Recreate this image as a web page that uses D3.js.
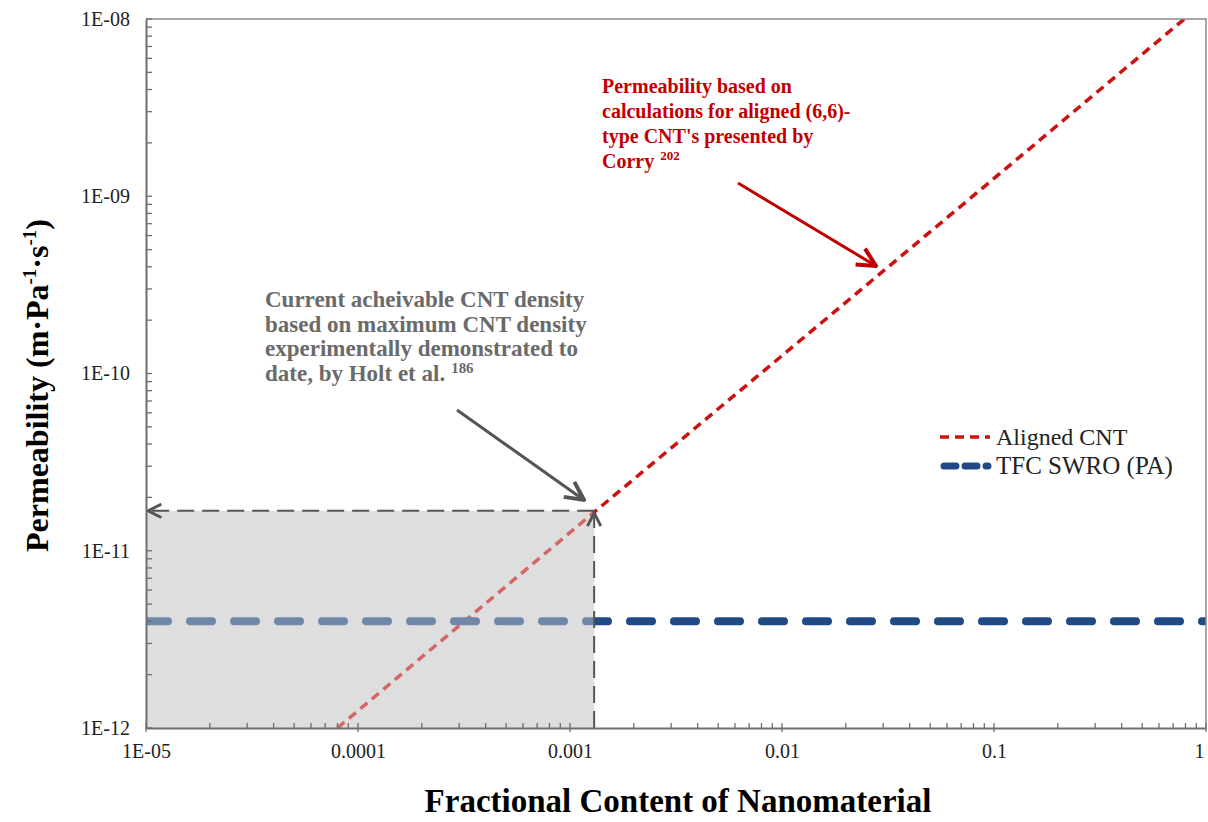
<!DOCTYPE html>
<html><head><meta charset="utf-8">
<script src="https://cdn.jsdelivr.net/npm/d3@7"></script>
<style>body{margin:0;background:#fff}svg{display:block}</style>
</head><body>
<svg id="chart" width="1208" height="822"></svg>
<script>
// ---- data ----
const xTickValues = [1e-5, 1e-4, 1e-3, 1e-2, 1e-1, 1];
const xTickLabels = ["1E-05", "0.0001", "0.001", "0.01", "0.1", "1"];
const yTickValues = [1e-12, 1e-11, 1e-10, 1e-9, 1e-8];
const yTickLabels = ["1E-12", "1E-11", "1E-10", "1E-09", "1E-08"];
const seriesNames = ["Aligned CNT", "TFC SWRO (PA)"];
const cntFraction = [0.00008, 0.0013, 0.01, 0.1, 0.79];
const cntPermeability = [1.0e-12, 1.65e-11, 1.26e-10, 1.26e-9, 1.0e-8];
const tfcFraction = [0.00001, 1];
const tfcPermeability = [4.0e-12, 4.0e-12];
const currentDensity = [0.0013];
const currentPermeability = [1.68e-11];
const redNote = ["Permeability based on", "calculations for aligned (6,6)-", "type CNT's presented by", "Corry"];
const redRef = "202";
const grayNote = ["Current acheivable CNT density", "based on maximum CNT density", "experimentally demonstrated to", "date, by Holt et al."];
const grayRef = "186";

// ---- layout ----
const svg = d3.select("#chart");
const L = 146, R = 1206, T = 19, B = 728;
const x = d3.scaleLog().domain([1e-5, 1]).range([L, R]);
const y = d3.scaleLog().domain([1e-12, 1e-8]).range([B, T]);
const serif = "'Liberation Serif','Times New Roman',serif";
const axisCol = "#6e6e6e";
const red = "#cc1111", blue = "#1f4a85", grayShade = "#dedede";

svg.append("rect").attr("width", 1208).attr("height", 822).attr("fill", "#fff");

const defs = svg.append("defs");
defs.append("clipPath").attr("id", "plotclip").append("rect")
  .attr("x", L).attr("y", T).attr("width", R - L).attr("height", B - T);
function chevron(id, col, size) {
  defs.append("marker").attr("id", id).attr("viewBox", "0 0 12 12")
    .attr("refX", 11).attr("refY", 6).attr("markerWidth", size).attr("markerHeight", size)
    .attr("markerUnits", "userSpaceOnUse").attr("orient", "auto")
    .append("path").attr("d", "M1,1 L11,6 L1,11").attr("fill", "none")
    .attr("stroke", col).attr("stroke-width", 2.2).attr("stroke-linejoin", "miter");
}
chevron("arrRed", "#c00000", 22);
chevron("arrGray", "#555", 22);
chevron("arrBox", "#555", 16);

const bx = x(currentDensity[0]), by = y(currentPermeability[0]);

// grey shaded region
svg.append("rect").attr("x", L).attr("y", by).attr("width", bx - L).attr("height", B - by).attr("fill", grayShade);

const plot = svg.append("g").attr("clip-path", "url(#plotclip)");
const line = d3.line().x(d => x(d[0])).y(d => y(d[1]));

plot.append("path").datum(cntFraction.map((f, i) => [f, cntPermeability[i]]))
  .attr("d", line).attr("fill", "none").attr("stroke", red)
  .attr("stroke-width", 3.5).attr("stroke-dasharray", "9,6");
plot.append("path").datum(tfcFraction.map((f, i) => [f, tfcPermeability[i]]))
  .attr("d", line).attr("fill", "none").attr("stroke", blue)
  .attr("stroke-width", 8).attr("stroke-linecap", "round").attr("stroke-dasharray", "22,22");

// translucent overlay above lines in shaded region
svg.append("rect").attr("x", L).attr("y", by).attr("width", bx - L).attr("height", B - by)
  .attr("fill", grayShade).attr("opacity", 0.42);

// dashed box lines
svg.append("line").attr("x1", bx).attr("y1", by).attr("x2", L + 2).attr("y2", by)
  .attr("stroke", "#555").attr("stroke-width", 2).attr("stroke-dasharray", "17,8")
  .attr("marker-end", "url(#arrBox)");
svg.append("line").attr("x1", bx).attr("y1", B).attr("x2", bx).attr("y2", by + 2)
  .attr("stroke", "#555").attr("stroke-width", 2).attr("stroke-dasharray", "17,8")
  .attr("marker-end", "url(#arrBox)");

// frame
svg.append("path").attr("d", `M${L},${T}H${R}V${B}`).attr("fill", "none").attr("stroke", "#8a8a8a").attr("stroke-width", 1.5);

// axes
const minorX = [], minorY = [];
for (let e = -5; e < 0; e++) for (let k = 2; k <= 9; k++) minorX.push(k * Math.pow(10, e));
for (let e = -12; e < -8; e++) for (let k = 2; k <= 9; k++) minorY.push(k * Math.pow(10, e));

const xAxis = d3.axisBottom(x).tickValues(xTickValues).tickSize(0).tickFormat((d, i) => xTickLabels[i]).tickPadding(16);
const gx = svg.append("g").attr("transform", `translate(0,${B})`).call(xAxis);
gx.select(".domain").attr("stroke", axisCol).attr("stroke-width", 2);
gx.selectAll("text").attr("font-family", serif).attr("font-size", 20).attr("fill", "#222").attr("dy", "0.72em");
gx.selectAll(".tick").filter(d => d === 1).select("text").attr("text-anchor", "end").attr("dx", -2);
svg.append("g").selectAll("line").data(minorX.concat(xTickValues)).join("line")
  .attr("x1", d => x(d)).attr("x2", d => x(d)).attr("y1", B - 5)
  .attr("y2", d => xTickValues.includes(d) ? B + 4 : B)
  .attr("stroke", axisCol).attr("stroke-width", 1.3);

const yAxis = d3.axisLeft(y).tickValues(yTickValues).tickSize(0).tickFormat((d, i) => yTickLabels[i]).tickPadding(16);
const gy = svg.append("g").attr("transform", `translate(${L},0)`).call(yAxis);
gy.select(".domain").attr("stroke", axisCol).attr("stroke-width", 2);
gy.selectAll("text").attr("font-family", serif).attr("font-size", 20).attr("fill", "#222");
svg.append("g").selectAll("line").data(minorY.concat(yTickValues)).join("line")
  .attr("y1", d => y(d)).attr("y2", d => y(d)).attr("x1", L).attr("x2", L + 6)
  .attr("stroke", axisCol).attr("stroke-width", 1.3);

// axis titles
svg.append("text").attr("x", (L + R) / 2 + 2).attr("y", 812).attr("text-anchor", "middle")
  .attr("font-family", serif).attr("font-weight", "bold").attr("font-size", 33).attr("fill", "#000")
  .text("Fractional Content of Nanomaterial");
const yt = svg.append("text").attr("transform", `translate(48,${(T + B) / 2 + 12}) rotate(-90)`)
  .attr("text-anchor", "middle").attr("font-family", serif).attr("font-weight", "bold")
  .attr("font-size", 32).attr("fill", "#000");
yt.append("tspan").text("Permeability (m·Pa");
yt.append("tspan").attr("font-size", 19).attr("dy", -12).text("-1");
yt.append("tspan").attr("dy", 12).text("·s");
yt.append("tspan").attr("font-size", 19).attr("dy", -12).text("-1");
yt.append("tspan").attr("dy", 12).text(")");

// legend
const lg = svg.append("g");
lg.append("line").attr("x1", 940).attr("x2", 990).attr("y1", 437).attr("y2", 437)
  .attr("stroke", red).attr("stroke-width", 3.5).attr("stroke-dasharray", "9,6");
lg.append("text").attr("x", 996).attr("y", 445).attr("font-family", serif).attr("font-size", 24).attr("fill", "#222").text(seriesNames[0]);
lg.append("line").attr("x1", 944).attr("x2", 988).attr("y1", 466).attr("y2", 466)
  .attr("stroke", blue).attr("stroke-width", 7).attr("stroke-linecap", "round").attr("stroke-dasharray", "12,9");
lg.append("text").attr("x", 996).attr("y", 474).attr("font-family", serif).attr("font-size", 25).attr("fill", "#222").text(seriesNames[1]);

// annotations
function note(lines, ref, x0, y0, col, fs, lh) {
  const t = svg.append("text").attr("font-family", serif).attr("font-weight", "bold")
    .attr("font-size", fs).attr("fill", col);
  lines.forEach((s, i) => {
    t.append("tspan").attr("x", x0).attr("y", y0 + i * lh).text(s);
  });
  t.append("tspan").attr("font-size", fs * 0.65).attr("dx", 6).attr("dy", -8).text(ref);
}
note(redNote, redRef, 602, 93, "#c00000", 20, 25);
note(grayNote, grayRef, 265, 307, "#6a6a6a", 23, 24.5);

svg.append("line").attr("x1", 738).attr("y1", 183).attr("x2", 876).attr("y2", 266)
  .attr("stroke", "#c00000").attr("stroke-width", 3).attr("marker-end", "url(#arrRed)");
svg.append("line").attr("x1", 457).attr("y1", 410).attr("x2", 584).attr("y2", 500)
  .attr("stroke", "#555").attr("stroke-width", 3).attr("marker-end", "url(#arrGray)");
</script>
</body></html>
